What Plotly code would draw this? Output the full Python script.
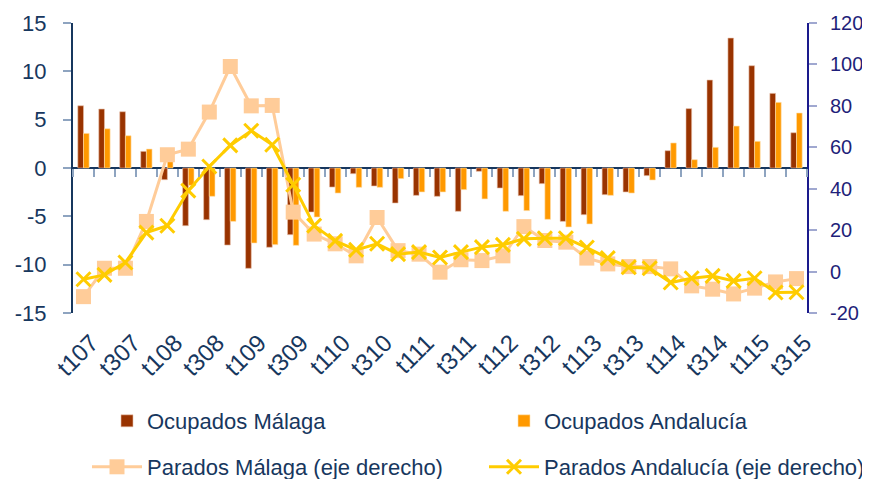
import plotly.graph_objects as go

quarters = ["t107", "t207", "t307", "t407", "t108", "t208", "t308", "t408",
            "t109", "t209", "t309", "t409", "t110", "t210", "t310", "t410",
            "t111", "t211", "t311", "t411", "t112", "t212", "t312", "t412",
            "t113", "t213", "t313", "t413", "t114", "t214", "t314", "t414",
            "t115", "t215", "t315"]
tick_labels = ["t107", "t307", "t108", "t308", "t109", "t309", "t110", "t310",
               "t111", "t311", "t112", "t312", "t113", "t313", "t114", "t314",
               "t115", "t315"]
left_ticks = [15, 10, 5, 0, -5, -10, -15]
left_ticktext = ["15", "10", "5", "0", "-5", "-10", "-15"]
right_ticks = [120, 100, 80, 60, 40, 20, 0, -20]
right_ticktext = ["120", "100", "80", "60", "40", "20", "0", "-20"]

ocup_malaga = [6.44, 6.1, 5.82, 1.72, -1.21, -5.97, -5.35, -7.97, -10.38, -8.2,
               -6.9, -4.55, -1.97, -0.59, -1.86, -3.62, -2.83, -2.93, -4.48, -0.34,
               -2.07, -2.86, -1.62, -5.52, -4.83, -2.76, -2.48, -0.79, 1.79, 6.14,
               9.1, 13.44, 10.58, 7.72, 3.65]
ocup_andalucia = [3.58, 4.06, 3.34, 1.96, 0.8, -1.8, -2.93, -5.52, -7.76, -7.93,
                  -8.0, -5.07, -2.59, -2.0, -2.0, -1.1, -2.48, -2.48, -2.24, -3.2,
                  -4.48, -4.41, -5.31, -6.1, -5.79, -2.83, -2.59, -1.24, 2.59, 0.86,
                  2.14, 4.34, 2.76, 6.79, 5.69]
parados_malaga = [-12.1, 1.6, 1.6, 24.2, 56.4, 59.1, 77.0, 99.0, 80.0, 80.2,
                  28.7, 18.1, 13.4, 7.6, 26.1, 10.1, 8.4, -0.3, 5.7, 5.3,
                  7.6, 21.7, 15.0, 14.2, 6.5, 3.7, 2.4, 2.4, 1.3, -6.9,
                  -8.5, -10.8, -8.0, -5.0, -3.4]
parados_andalucia = [-3.7, -1.6, 4.4, 18.8, 22.1, 39.1, 50.7, 60.9, 68.0, 61.2,
                     41.9, 22.2, 14.8, 10.5, 13.4, 8.4, 9.4, 6.8, 9.4, 11.8,
                     12.9, 15.8, 16.1, 16.1, 11.6, 6.5, 2.1, 1.6, -5.3, -3.2,
                     -2.1, -4.5, -3.2, -10.1, -10.0]

NAVY = "#17375E"
RNAVY = "#1F1F7A"
TICKC = "#8EA4C0"
FONT = "Liberation Sans, Arial, sans-serif"

# page offset of the plot div (default body margin) and plot area in page pixels
OFF = 8
PAGE_W, PAGE_H = 870, 479
L, R, T, B = 73, 807, 23, 313
PW, PH = R - L, B - T


def px_x(p):
    return (p - L) / PW


def px_y(p):
    return (B - p) / PH


fig = go.Figure()
fig.add_trace(go.Bar(x=quarters, y=ocup_malaga, name="Ocupados Málaga",
                     marker=dict(color="#993300", line=dict(color="#E8C0A8", width=0.6)),
                     legend="legend"))
fig.add_trace(go.Bar(x=quarters, y=ocup_andalucia, name="Ocupados Andalucía",
                     marker=dict(color="#FF9900", line=dict(color="#FFE0B0", width=0.6)),
                     legend="legend2"))
fig.add_trace(go.Scatter(x=quarters, y=parados_malaga, name="Parados Málaga (eje derecho)",
                         mode="lines+markers", yaxis="y2",
                         line=dict(color="#FFCC99", width=3),
                         marker=dict(symbol="square", size=15, color="#FFCC99"),
                         legend="legend3"))
fig.add_trace(go.Scatter(x=quarters, y=parados_andalucia, name="Parados Andalucía (eje derecho)",
                         mode="lines+markers", yaxis="y2",
                         line=dict(color="#FFCC00", width=3),
                         marker=dict(symbol="x-thin", size=14, color="#FFCC00",
                                     line=dict(color="#FFCC00", width=3)),
                         legend="legend4"))
# helper trace carrying the tick marks along the zero line
fig.add_trace(go.Scatter(x=quarters, y=[None] * len(quarters), xaxis="x2",
                         showlegend=False, hoverinfo="skip", mode="lines"))

leg_font = dict(size=22, color=NAVY, family=FONT)


def leg(xp, yp, iw=30):
    return dict(orientation="h", x=px_x(xp), xanchor="left", y=px_y(yp), yanchor="middle",
                font=leg_font, bgcolor="rgba(0,0,0,0)", itemwidth=iw)


fig.update_layout(
    template="none",
    width=PAGE_W - OFF, height=PAGE_H - OFF,
    margin=dict(l=L - OFF, r=PAGE_W - R, t=T - OFF, b=PAGE_H - B, autoexpand=False),
    paper_bgcolor="white", plot_bgcolor="white",
    font=dict(family=FONT, color=NAVY),
    barmode="group", bargap=0.46, bargroupgap=0,
    xaxis=dict(type="category", categoryorder="array", categoryarray=quarters,
               range=[-0.5, len(quarters) - 0.5],
               tickmode="array", tickvals=tick_labels, ticktext=tick_labels,
               tickangle=-45, tickfont=dict(size=24, color=NAVY),
               ticks="", showline=False, showgrid=False, zeroline=False,
               ticklabelshift=8, ticklabelstandoff=10, automargin=False),
    xaxis2=dict(type="category", categoryorder="array", categoryarray=quarters,
                matches="x", overlaying="x", anchor="free", position=px_y(168.3),
                showticklabels=False, ticks="outside", tickson="boundaries",
                ticklen=8, tickwidth=1.5, tickcolor=TICKC, tickmode="linear", dtick=1,
                showline=False, showgrid=False, zeroline=False, automargin=False),
    yaxis=dict(range=[-15, 15], tickmode="array", tickvals=left_ticks, ticktext=left_ticktext,
               tickfont=dict(size=22, color=NAVY),
               showline=True, linecolor=NAVY, linewidth=2,
               ticks="outside", ticklen=8, tickcolor=TICKC, tickwidth=1.5,
               ticklabelstandoff=12, automargin=False,
               showgrid=False, zeroline=True, zerolinecolor=NAVY, zerolinewidth=2),
    yaxis2=dict(range=[-20, 120], tickmode="array", tickvals=right_ticks, ticktext=right_ticktext,
                overlaying="y", side="right",
                tickfont=dict(size=20, color=RNAVY),
                showline=True, linecolor="#1A1A8C", linewidth=2,
                ticks="outside", ticklen=8, tickcolor="#A0A8D0", tickwidth=1.5,
                ticklabelstandoff=9, automargin=False,
                showgrid=False, zeroline=False),
    legend=leg(107, 421),
    legend2=leg(504, 421),
    legend3=leg(87, 467, 50),
    legend4=leg(484, 467, 50),
    showlegend=True,
)

fig.write_html("out.html")
